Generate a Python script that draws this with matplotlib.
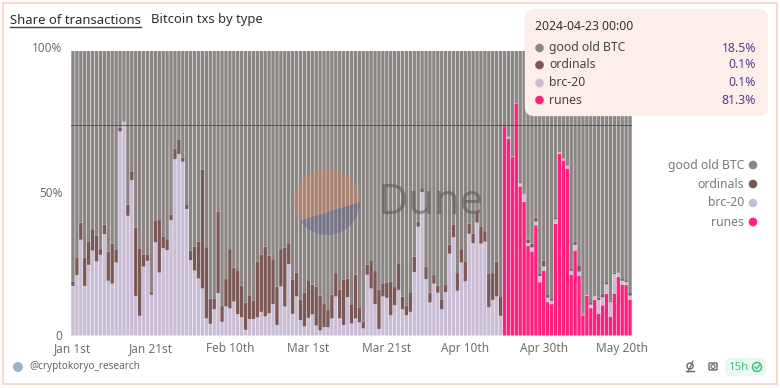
import numpy as np
import matplotlib
matplotlib.use('Agg')
import matplotlib.pyplot as plt
from matplotlib.patches import Circle, FancyBboxPatch, Polygon, Rectangle
from matplotlib.transforms import ScaledTranslation

plt.rcParams['font.family'] = ['Noto Sans', 'DejaVu Sans']

#Datos, un valor por dia desde Jan 1st
good_btc = [81.2,72.8,60.4,72.6,67,62.7,65,69.7,61.1,70.6,67.8,70,27.1,25,54.1,42.6,62.2,69.4,71.7,71.7,
            84.8,59.6,59.5,65.3,66.2,57.6,34.5,31.4,37.7,54.2,70.3,68.8,67,41.9,69,87.1,87.2,56.6,89.7,80.2,
            69.7,76.2,77.1,82.5,88.4,85.9,87.7,74.1,71.7,68.9,72,73.5,82.8,69.7,69.1,67.6,80.5,77.9,87.5,84.9,
            80.6,82.2,82.8,86,88.7,90.8,85.7,78.1,84,80.3,80,89.3,78.7,90.1,95.3,75.2,73.6,77.4,84,81.7,
            81.5,81,83,74.9,86.4,89.6,84.8,72.3,60,48.3,75.8,84.9,78.8,82.4,87.5,82.3,68.1,61.2,78.1,69.7,
            74.2,60.8,64.3,56.7,61.7,63.4,78.2,78.1,74.1,86.5,26.5,30.2,37.1,18.5,46.2,50.2,66.4,67.8,58.6,78.2,
            73.7,85.8,87.2,58.5,35.6,37.9,40.4,76.7,67,75.6,92.4,85.4,88.6,86.1,86.7,85.5,81.3,87.7,77.9,77.7,
            80.2,80.6,85.1]
ordinals = [1.4,6,6,10,8.2,7.5,9,2,3.3,10.2,14,4.4,1.3,0,3.9,2.9,23.9,23.7,4.1,2.1,
            0.9,7.7,18.4,4.1,3.8,1.9,3.6,4.9,1.3,1.4,3.3,8.4,13,41.6,25,8.8,3.6,28.5,5.5,9.6,
            20.8,11.9,15.4,11.1,9.6,8.3,6.5,19.5,20,24.4,20.2,15.5,13.5,13.1,20.7,7.3,11.9,8.4,7.1,11.9,
            13.2,10.4,13.7,12.2,8.4,6.3,8.3,8.2,10,16,6.5,6.5,15.3,5.3,2.2,3.5,9.9,11.6,13.7,4.6,
            5.3,11.9,6.4,9.1,4.4,3.3,6.9,5.4,1.8,1.4,4.4,3.5,3,2.6,3.3,2.5,3.2,4.3,6.2,4.7,
            6.8,3.5,3.3,3.7,6.1,3.7,11.9,9.4,12.2,6.6,0.1,0.2,0.1,0.1,0.4,0.2,1.2,1.3,1.4,0.9,
            2.1,0.9,0.6,0.7,0.1,0.1,0.1,0.6,1.2,2,0.2,0.3,0.6,0.1,0.8,1.1,0.7,0.5,0.5,0.2,
            0.6,0.6,0.9]
brc20 = [17.4,21.2,33.6,17.4,24.8,29.8,26,28.3,35.6,19.2,18.2,25.6,71.6,75,42,54.5,13.9,6.9,24.2,26.2,
         14.3,32.7,22.1,30.6,30,40.5,61.9,63.7,61,44.4,26.4,22.8,20,16.5,6,4.1,9.2,14.9,4.8,10.2,
         9.5,11.9,7.5,6.4,2,5.8,5.8,6.4,8.3,6.7,7.8,11,3.7,17.2,10.2,25.1,7.6,13.7,5.4,3.2,
         6.2,7.4,3.5,1.8,2.9,2.9,6,13.7,6,3.7,13.5,4.2,6,4.6,2.5,21.3,16.5,11,2.3,13.7,
         13.2,7.1,10.6,16,9.2,7.1,8.3,22.3,38.2,50.3,19.8,11.6,18.2,15,9.2,15.2,28.7,34.5,15.7,25.6,
         19,35.7,32.4,39.6,32.2,32.9,9.9,12.5,13.7,6.9,0,0.5,0.2,0.1,1.1,2.7,0.9,1.4,1.3,2.2,
         1.5,1.6,1.2,1.6,0.6,0.6,0.9,1.4,2,1.4,0.3,0.4,1.2,1.3,4.8,2.8,3.4,5.3,7,1.6,
         1.4,1.1,1.5]
runes = [0]*110 + [73.4,69.1,62.6,81.3,52.3,46.9,31.5,29.5,38.7,18.7,
                   22.7,11.7,11,39.2,63.7,61.4,58.6,21.3,29.8,21,7.1,13.9,9.6,12.5,7.7,10.6,14.6,6.5,14.6,20.5,
                   17.8,17.7,12.5]

tick_idx = [0, 20, 40, 60, 80, 100, 120, 140]
tick_labels = ['Jan 1st', 'Jan 21st', 'Feb 10th', 'Mar 1st', 'Mar 21st', 'Apr 10th', 'Apr 30th', 'May 20th']
series_names = ['good old BTC', 'ordinals', 'brc-20', 'runes']
series_colors = ['#8b8684', '#7b5855', '#c9bdd6', '#ff1f7e']
tooltip_date = '2024-04-23 00:00'
tooltip_values = ['18.5%', '0.1%', '0.1%', '81.3%']

W, H = 780, 388
fig = plt.figure(figsize=(W/100, H/100), dpi=100)

#Grafica principal, posicion en pixeles
ax = fig.add_axes([71/W, 1 - 335.5/H, 561/W, 285/H])
idx = np.arange(len(good_btc))
bottom = np.zeros(len(idx))
for vals, col in zip([runes, brc20, ordinals, good_btc], series_colors[::-1]):
    bars = ax.bar(idx, vals, 0.86, bottom=bottom, color=col, linewidth=0)
    for b in bars:
        b.set_snap(False)
    bottom = bottom + np.array(vals)
ax.set_xlim(-0.5, 142.5)
ax.set_ylim(0, 100)
for s in ax.spines.values():
    s.set_visible(False)
ax.set_xticks(tick_idx)
ax.set_xticklabels(tick_labels, fontsize=8.5, color='#6f6f6f')
ax.set_yticks([0, 50, 100])
ax.set_yticklabels(['0', '50%', '100%'], fontsize=8.5, color='#6f6f6f')
ax.tick_params(axis='x', length=0, pad=5)
ax.tick_params(axis='y', length=0, pad=6)
#Subir un poco las etiquetas del eje y
for lab, dy in zip(ax.get_yticklabels(), [1, 1, 3]):
    lab.set_transform(lab.get_transform() + ScaledTranslation(0, dy/100, fig.dpi_scale_trans))
ax.axhline(73.9, color='#4f4a4a', linewidth=0.6)

#Capa superior en coordenadas de pixel
ov = fig.add_axes([0, 0, 1, 1], facecolor='none')
ov.set_xlim(0, W)
ov.set_ylim(H, 0)
ov.axis('off')

#Marco
ov.add_patch(Rectangle((3, 3), 773.5, 381, fill=False, edgecolor='#fbd2c8', linewidth=1.2))

#Titulo
ov.text(10, 20, 'Share of transactions', fontsize=9.4, fontweight='semibold', color='#2b2b2b', va='center')
ov.plot([10, 141], [27, 27], color='#444444', linewidth=1)
ov.text(151, 20, 'Bitcoin txs by type', fontsize=9.4, color='#2f2f2f', va='center')

#Marca de agua
up = Circle((327, 202), 33, color='#e8834f', alpha=0.3, linewidth=0)
ov.add_patch(up)
up.set_clip_path(Polygon([(299.3, 221), (359.3, 202.3), (370, 160), (285, 160), (285, 225.3)], transform=ov.transData))
low = Circle((327, 202), 33, color='#4c4f8c', alpha=0.3, linewidth=0)
ov.add_patch(low)
low.set_clip_path(Polygon([(299.3, 221), (359.3, 202.3), (370, 250), (290, 250)], transform=ov.transData))
ov.text(378, 203, 'Dune', fontsize=30, color='#5f5a59', alpha=0.6, va='center', fontweight='semibold')

#Tooltip
ov.add_patch(FancyBboxPatch((529, 13), 235, 99, boxstyle='round,pad=0,rounding_size=5', mutation_aspect=1,
                            facecolor='#fdeeea', edgecolor='#fdeeea', linewidth=6, zorder=5))
ov.text(535, 26, tooltip_date, fontsize=8.8, fontweight='semibold', color='#333333', va='center', zorder=6)
for y, name, col, val in zip([48, 65, 83, 100], series_names, series_colors, tooltip_values):
    ov.add_patch(Circle((539.5, y), 4.3, color=col, linewidth=0, zorder=6))
    ov.text(549, y, name, fontsize=8.8, color='#444444', va='center', zorder=6)
    ov.text(756, y, val, fontsize=8.8, color='#4d3f8f', va='center', ha='right', zorder=6)

#Leyenda
for y, name, col in zip([165, 184, 203, 222], series_names, series_colors):
    ov.text(744, y, name, fontsize=8.8, color='#7b7b7b', va='center', ha='right')
    ov.add_patch(Circle((753, y), 4.3, color=col, linewidth=0))

#Pie
ov.add_patch(Circle((18, 367), 5, color='#9fb2c8', linewidth=0))
ov.text(29, 367, '@cryptokoryo_research', fontsize=7.2, color='#666666', va='center')

#Iconos y etiqueta
ov.add_patch(Circle((690, 366), 3, fill=False, edgecolor='#666666', linewidth=1))
ov.plot([686, 694], [371, 371], color='#666666', linewidth=1)
ov.plot([688, 693], [372, 361], color='#666666', linewidth=0.8)
ov.add_patch(FancyBboxPatch((709, 363), 8, 7, boxstyle='round,pad=0,rounding_size=1', fill=False,
                            edgecolor='#666666', linewidth=1))
ov.add_patch(Circle((713, 366.5), 2, fill=False, edgecolor='#666666', linewidth=0.8))
ov.add_patch(FancyBboxPatch((727, 360), 37, 14, boxstyle='round,pad=0,rounding_size=3',
                            facecolor='#e9f8f1', edgecolor='#e9f8f1', linewidth=3))
ov.text(729, 367, '15h', fontsize=8.2, color='#3fbf84', va='center')
ov.add_patch(Circle((757, 367), 4.5, fill=False, edgecolor='#3fbf84', linewidth=1.1))
ov.plot([755, 756.6, 759.4], [367, 368.8, 365.2], color='#3fbf84', linewidth=1)

fig.savefig('out.png', dpi=100)
